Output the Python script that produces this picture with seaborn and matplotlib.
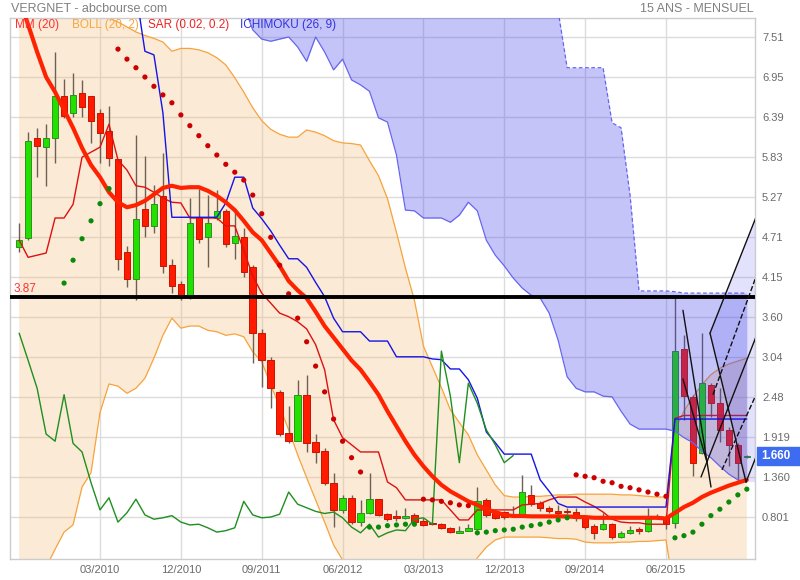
import numpy as np
import pandas as pd
import matplotlib
matplotlib.use("Agg")
import matplotlib.pyplot as plt
from matplotlib.patches import Rectangle
import seaborn as sns

sns.set_style("white")
plt.rcParams["font.family"] = ["Liberation Sans", "DejaVu Sans"]

# ---------------------------------------------------------------- data
months = pd.period_range("2009-06", "2016-03", freq="M")

open_ = [4.57, 4.70, 6.10, 5.97, 6.10, 6.68, 6.45, 6.73, 6.68, 6.45,
         6.19, 5.80, 4.50, 4.13, 5.11, 4.87, 5.29, 4.32, 4.06, 3.87,
         5.00, 4.71, 4.98, 5.08, 4.63, 4.71, 4.30, 3.37, 2.99, 2.55,
         1.97, 1.86, 2.51, 1.85, 1.72, 1.28, 0.90, 1.07, 0.73, 0.86,
         1.05, 0.84, 0.82, 0.79, 0.83, 0.75, 0.72, 0.70, 0.65, 0.58,
         0.61, 0.63, 1.04, 0.86, 0.87, 0.81, 0.83, 1.11, 0.99, 0.93,
         0.88, 0.885, 0.87, 0.79, 0.68, 0.63, 0.70, 0.52, 0.58, 0.63,
         0.60, 0.82, 0.80, 0.72, 3.15, 2.48, 1.70, 2.65, 2.39, 2.02,
         1.81, 1.64]
high = [4.91, 6.18, 6.24, 6.29, 7.30, 6.92, 7.00, 6.91, 6.68, 6.50,
        6.54, 5.80, 4.59, 6.14, 5.85, 5.44, 5.89, 4.41, 4.10, 5.26,
        5.38, 5.30, 5.37, 5.11, 5.11, 4.84, 4.32, 3.43, 3.04, 2.57,
        2.35, 2.72, 2.79, 1.96, 1.77, 1.42, 1.11, 1.11, 1.04, 1.42,
        1.05, 0.86, 0.90, 0.93, 0.86, 0.79, 0.73, 0.72, 0.66, 0.67,
        0.71, 1.22, 1.06, 0.90, 0.88, 0.96, 1.39, 1.25, 1.03, 0.96,
        0.97, 0.92, 0.92, 0.80, 0.70, 0.86, 0.72, 0.60, 0.68, 0.66,
        0.92, 0.84, 0.84, 3.86, 3.34, 2.51, 3.37, 2.67, 2.60, 2.06,
        1.83, 1.67]
low = [4.51, 4.67, 5.55, 5.43, 5.75, 6.38, 6.39, 6.39, 6.03, 5.75,
       5.71, 4.25, 4.01, 3.83, 4.71, 4.77, 4.21, 3.93, 3.84, 3.85,
       4.63, 4.30, 4.95, 4.57, 4.41, 4.15, 2.95, 2.62, 2.33, 1.94,
       1.83, 1.86, 1.71, 1.56, 1.25, 0.66, 0.86, 0.71, 0.68, 0.84,
       0.81, 0.75, 0.75, 0.77, 0.70, 0.68, 0.69, 0.64, 0.58, 0.58,
       0.61, 0.62, 0.80, 0.77, 0.78, 0.80, 0.82, 0.95, 0.89, 0.85,
       0.83, 0.84, 0.74, 0.64, 0.49, 0.62, 0.50, 0.51, 0.57, 0.56,
       0.59, 0.77, 0.64, 0.65, 2.16, 1.37, 1.68, 2.20, 1.85, 1.52,
       1.29, 1.63]
close = [4.67, 6.06, 5.99, 6.10, 6.68, 6.40, 6.70, 6.53, 6.33, 6.17,
         5.82, 4.41, 4.13, 4.97, 4.87, 5.18, 4.31, 4.03, 3.87, 4.91,
         4.69, 4.91, 5.08, 4.62, 4.73, 4.22, 3.37, 2.99, 2.60, 1.96,
         1.86, 2.51, 1.83, 1.71, 1.28, 0.90, 1.07, 0.73, 0.86, 1.05,
         0.83, 0.77, 0.79, 0.82, 0.73, 0.69, 0.70, 0.65, 0.59, 0.61,
         0.65, 1.02, 0.83, 0.79, 0.80, 0.84, 1.15, 0.98, 0.93, 0.88,
         0.85, 0.87, 0.79, 0.66, 0.58, 0.70, 0.52, 0.58, 0.62, 0.61,
         0.77, 0.79, 0.70, 3.12, 2.49, 1.56, 2.67, 2.39, 2.02, 1.81,
         1.56, 1.66]

mm20 = [8.05, 7.68, 7.30, 6.95, 6.74, 6.49, 6.24, 5.96, 5.72, 5.55,
        5.34, 5.20, 5.13, 5.16, 5.22, 5.31, 5.40, 5.43, 5.40, 5.41,
        5.41, 5.36, 5.29, 5.20, 5.09, 4.94, 4.78, 4.67, 4.49, 4.31,
        4.10, 3.97, 3.86, 3.67, 3.47, 3.31, 3.15, 2.99, 2.86, 2.69,
        2.51, 2.28, 2.07, 1.86, 1.67, 1.51, 1.37, 1.25, 1.16, 1.09,
        1.02, 0.97, 0.91, 0.87, 0.83, 0.815, 0.815, 0.81, 0.81, 0.81,
        0.81, 0.81, 0.80, 0.80, 0.79, 0.79, 0.79, 0.79, 0.79, 0.79,
        0.79, 0.79, 0.78, 0.86, 0.94, 1.00, 1.08, 1.14, 1.19, 1.24,
        1.28, 1.32]
boll_up = [9.40, 9.30, 9.20, 9.00, 8.80, 8.60, 8.40, 8.20, 8.00, 7.85,
           7.77, 7.72, 7.65, 7.58, 7.53, 7.49, 7.44, 7.31, 7.35, 7.35,
           7.33, 7.29, 7.22, 7.12, 6.94, 6.74, 6.52, 6.34, 6.22, 6.15,
           6.11, 6.11, 6.21, 6.18, 6.13, 6.06, 6.03, 6.02, 6.00, 5.78,
           5.57, 5.25, 4.78, 4.28, 3.83, 3.19, 2.90, 2.61, 2.30, 2.12,
           1.95, 1.67, 1.46, 1.25, 1.10, 1.08, 1.08, 1.09, 1.09, 1.10,
           1.11, 1.11, 1.12, 1.12, 1.12, 1.12, 1.12, 1.11, 1.11, 1.10,
           1.09, 1.08, 1.08, 2.02, 2.28, 2.48, 2.65, 2.79, 2.88, 2.94,
           2.98, 3.02]
boll_dn = [-0.60, -0.40, -0.15, 0.10, 0.35, 0.59, 0.69, 1.22, 1.42, 2.26,
           2.66, 2.63, 2.53, 2.60, 2.74, 3.02, 3.34, 3.58, 3.44, 3.47,
           3.47, 3.41, 3.39, 3.34, 3.36, 3.32, 3.11, 2.97, 2.65, 2.34,
           2.02, 1.67, 1.35, 1.04, 0.73, 0.41, 0.20, -0.10, -0.40, -0.60,
           -0.50, -0.60, -0.55, -0.45, -0.40, -0.20, -0.20, -0.15, 0.00, 0.10,
           0.05, 0.23, 0.38, 0.48, 0.52, 0.52, 0.52, 0.52, 0.52, 0.51,
           0.50, 0.50, 0.49, 0.45, 0.44, 0.44, 0.44, 0.45, 0.45, 0.46,
           0.46, 0.47, 0.48, -0.30, -0.40, -0.48, -0.49, -0.51, -0.50, -0.46,
           -0.42, -0.38]
sar = [np.nan, np.nan, np.nan, np.nan, np.nan, 4.07, 4.39, 4.69, 4.94, 5.18,
       5.39, 7.34, 7.20, 7.08, 6.95, 6.82, 6.70, 6.59, 6.42, 6.27,
       6.13, 5.99, 5.86, 5.73, 5.62, 5.51, 5.30, 5.04, 4.71, 4.32,
       3.92, 3.58, 3.25, 2.91, 2.55, 2.17, 1.86, 1.63, 1.43, 0.66,
       0.66, 0.68, 0.69, 0.70, 0.70, 1.05, 1.04, 1.02, 1.00, 0.97,
       0.96, 0.58, 0.59, 0.61, 0.62, 0.63, 0.66, 0.68, 0.70, 0.73,
       0.76, 0.79, 1.39, 1.37, 1.35, 1.30, 1.28, 1.23, 1.21, 1.18,
       1.15, 1.12, 1.09, 0.51, 0.54, 0.59, 0.70, 0.82, 0.91, 1.01,
       1.11, 1.19]
tenkan = [4.67, 4.43, 4.46, 4.49, 4.98, 4.98, 5.17, 5.83, 5.90, 5.97,
          6.29, 5.79, 5.65, 5.43, 5.41, 5.34, 5.26, 5.20, 5.19, 4.98,
          4.98, 4.98, 4.98, 4.87, 4.87, 4.53, 4.17, 3.93, 3.79, 3.65,
          3.60, 3.53, 3.43, 3.21, 2.86, 2.16, 1.91, 1.81, 1.71, 1.71,
          1.71, 1.29, 1.21, 1.04, 1.04, 1.04, 1.04, 1.04, 0.90, 0.76,
          0.76, 0.90, 0.90, 0.90, 0.90, 0.90, 0.97, 0.98, 0.99, 1.04,
          1.08, 1.08, 1.08, 1.01, 0.95, 0.87, 0.77, 0.73, 0.72, 0.72,
          0.70, 0.70, 0.70, 2.18, 2.22, 2.22, 2.22, 2.22, 2.22, 2.22,
          2.22, 2.22]
kijun = [np.nan] * 13 + [
          8.14, 7.31, 7.26, 6.45, 4.99, 4.99, 4.99, 4.99, 4.99, 4.99,
          5.19, 5.55, 5.55, 5.12, 4.97, 4.80, 4.60, 4.41, 4.41, 4.29,
          4.08, 3.88, 3.58, 3.39, 3.39, 3.39, 3.26, 3.26, 3.26, 3.04,
          3.04, 3.04, 3.04, 3.01, 3.00, 2.87, 2.87, 2.72, 2.46, 1.99,
          1.84, 1.68, 1.68, 1.68, 1.68, 1.32, 1.16, 0.99, 0.94, 0.94,
          0.94, 0.94, 0.94, 0.94, 0.94, 0.94, 0.94, 0.94, 0.94, 0.94,
          2.17, 2.17, 2.17, 2.17, 2.17, 2.17, 2.17, 2.17, 2.17]
# cloud spans, from 2011-07 onwards
cloud_start = "2011-07"
cloud_low = [7.95, 7.61, 7.48, 7.45, 7.48, 7.51, 7.37, 7.17, 7.51, 7.30,
             7.05, 7.20, 6.91, 6.84, 6.75, 6.38, 6.32, 5.86, 5.09, 5.08,
             4.98, 4.98, 4.98, 4.92, 5.02, 5.20, 5.08, 4.67, 4.46, 4.31,
             4.14, 4.00, 3.90, 3.86, 3.65, 3.27, 2.76, 2.60, 2.55, 2.55,
             2.49, 2.48, 2.28, 2.10, 2.03, 2.03, 2.03, 2.03, 2.00, 1.91,
             1.84, 1.72, 1.63, 1.51, 1.40, 1.32, 1.29]
cloud_high = [8.95, 8.95, 8.95, 8.95, 8.95, 8.95, 8.95, 8.95, 8.95, 8.95,
              8.95, 8.95, 8.95, 8.95, 8.95, 8.95, 8.95, 8.95, 8.95, 8.95,
              8.95, 8.95, 8.95, 8.95, 8.95, 8.60, 8.60, 8.60, 8.60, 8.60,
              8.60, 8.60, 8.60, 8.60, 8.60, 7.87, 7.08, 7.08, 7.08, 7.08,
              7.08, 6.31, 6.24, 5.30, 3.96, 3.96, 3.96, 3.96, 3.95, 3.93,
              3.93, 3.93, 3.93, 3.93, 3.93, 3.93, 3.93]

level = 3.87
y_ticks = [0.801, 1.360, 1.919, 2.478, 3.037, 3.596, 4.155, 4.714,
           5.273, 5.832, 6.391, 6.950, 7.509]
y_labels = ["0.801", "1.360", "1.919", "2.48", "3.04", "3.60", "4.15",
            "4.71", "5.27", "5.83", "6.39", "6.95", "7.51"]
x_tick_months = ["2010-03", "2010-12", "2011-09", "2012-06",
                 "2013-03", "2013-12", "2014-09", "2015-06"]

# hand-drawn trend lines (month offset from 2010-03, price)
trend_x0 = [64.89, 64.89, 66.90, 67.90, 67.90, 71.91, 68.23, 69.23]
trend_y0 = [3.69, 2.73, 1.36, 3.37, 3.37, 1.29, 2.51, 1.46]
trend_x1 = [68.01, 67.56, 73.46, 71.91, 73.46, 73.46, 73.46, 73.46]
trend_y1 = [1.22, 1.57, 3.46, 1.29, 5.13, 1.78, 4.31, 2.63]
trend_ls = ["-", "-", "-", "-", "-", "-", "--", "--"]
shade_x = [67.90, 73.46, 73.46, 71.91]
shade_y = [3.37, 5.13, 1.29, 1.29]

# ---------------------------------------------------------------- frames
ref = pd.Period("2010-03", freq="M")
mx = np.array([(p - ref).n for p in months], dtype=float)
df = pd.DataFrame({"x": mx, "open": open_, "high": high, "low": low,
                   "close": close, "mm20": mm20, "bu": boll_up,
                   "bd": boll_dn, "sar": sar, "tenkan": tenkan,
                   "kijun": kijun})
c0 = (pd.Period(cloud_start, freq="M") - ref).n
cloud = pd.DataFrame({"x": np.arange(c0, c0 + len(cloud_low), dtype=float),
                      "lo": cloud_low, "hi": cloud_high})
chikou = pd.DataFrame({"x": mx[:-26], "y": np.array(close)[26:]})
sar_df = df.dropna(subset=["sar"]).copy()
sar_df["side"] = np.where(sar_df["sar"] > sar_df["close"], "down", "up")

# ---------------------------------------------------------------- figure
W, H = 800, 580
fig = plt.figure(figsize=(W / 100, H / 100), dpi=100)
ax = fig.add_axes([10 / W, 21 / H, 745 / W, 541 / H])
ax.set_xlim(-10.02, 72.91)
ax.set_ylim(0.214, 7.775)

tick_x = [(pd.Period(t, freq="M") - ref).n for t in x_tick_months]
ax.set_xticks(tick_x)
ax.set_xticklabels([pd.Period(t, freq="M").strftime("%m/%Y") for t in x_tick_months])
ax.set_yticks(y_ticks)
ax.set_yticklabels(y_labels)
ax.yaxis.tick_right()
ax.grid(True, color="#dcdcdc", lw=1)
ax.set_axisbelow(True)
ax.tick_params(axis="both", length=0, labelsize=8, colors="#6a6a6a")
ax.tick_params(axis="x", pad=4)
ax.tick_params(axis="y", pad=5)
for s in ax.spines.values():
    s.set_color("#cccccc")
    s.set_linewidth(1)

# Bollinger bands
ax.fill_between(df.x, df.bd, df.bu, color="#f5bc76", alpha=0.3, lw=0, zorder=1)
sns.lineplot(data=df, x="x", y="bu", ax=ax, color="#f7a33c", lw=0.9, zorder=2)
sns.lineplot(data=df, x="x", y="bd", ax=ax, color="#f7a33c", lw=0.9, zorder=2)

# candles
up = df.close >= df.open
body_lo = np.minimum(df.open, df.close)
body_h = np.maximum((df.close - df.open).abs(), 0.015)
ax.vlines(df.x, df.low, df.high, color="#6e6052", lw=1, zorder=3)
ax.bar(df.x, body_h, bottom=body_lo, width=0.72,
       color=np.where(up, "#22e000", "#ff1a00"),
       edgecolor=np.where(up, "#2f8f1f", "#c81400"), linewidth=0.7, zorder=4)

# Ichimoku tenkan (beneath the cloud)
sns.lineplot(data=df, x="x", y="tenkan", ax=ax, color="#dd1111", lw=1.0, zorder=4.5)

# Ichimoku cloud
ax.fill_between(cloud.x, cloud.lo, cloud.hi, color="#3e3eee", alpha=0.3, lw=0, zorder=5)
sns.lineplot(data=cloud, x="x", y="lo", ax=ax, color="#6565f0", lw=0.9, zorder=5)
sns.lineplot(data=cloud, x="x", y="hi", ax=ax, color="#6565f0", lw=0.9,
             linestyle=(0, (3, 2)), zorder=5)
ax.fill(shade_x, shade_y, color="#3e3eee", alpha=0.15, lw=0, zorder=5)

# kijun, chikou, moving average
sns.lineplot(data=df, x="x", y="kijun", ax=ax, color="#1414e6", lw=1.0, zorder=6)
sns.lineplot(data=chikou, x="x", y="y", ax=ax, color="#1f8f1f", lw=1.0, zorder=6)
sns.lineplot(data=df, x="x", y="mm20", ax=ax, color="#ff2200", lw=3.0, zorder=6.5)

# parabolic SAR
sns.scatterplot(data=sar_df, x="x", y="sar", hue="side", ax=ax,
                palette={"up": "#0a8a0a", "down": "#cc0000"}, s=14,
                linewidth=0, legend=False, zorder=7)

# support level and trend lines
ax.axhline(level, color="black", lw=2.8, zorder=8)
ax.text(-9.6, level + 0.04, f"{level:.2f}", color="#ff3333", fontsize=8.5,
        va="bottom", ha="left", zorder=9)
for x0, y0, x1, y1, ls in zip(trend_x0, trend_y0, trend_x1, trend_y1, trend_ls):
    ax.plot([x0, x1], [y0, y1], color="#111111", lw=1.0, ls=ls, zorder=8)

ax.set_xlabel("")
ax.set_ylabel("")

# legend and titles
legend_items = [("MM (20)", "#ff3333", 15), ("BOLL (20, 2)", "#f5a742", 72),
                ("SAR (0.02, 0.2)", "#ee2222", 148), ("ICHIMOKU (26, 9)", "#3333dd", 240)]
for txt, col, px in legend_items:
    fig.text(px / W, 1 - 25 / H, txt, color=col, fontsize=8.5, va="center", ha="left")
fig.text(11 / W, 1 - 9 / H, "VERGNET - abcbourse.com", color="#808080",
         fontsize=9, va="center", ha="left")
fig.text(754 / W, 1 - 9 / H, "15 ANS - MENSUEL", color="#808080",
         fontsize=9, va="center", ha="right")

# last price tag on the right axis
last_price = close[-1]
yd = ax.transData.transform((0, last_price))[1]
fig.patches.append(Rectangle((757 / W, (yd - 9) / H), 43 / W, 18 / H,
                             transform=fig.transFigure, color="#3d6cf0", zorder=10))
fig.text(761 / W, yd / H, f"{last_price:.3f}", color="white", fontsize=8.5,
         fontweight="bold", va="center", ha="left", zorder=11)

fig.savefig("out.png", dpi=100)
